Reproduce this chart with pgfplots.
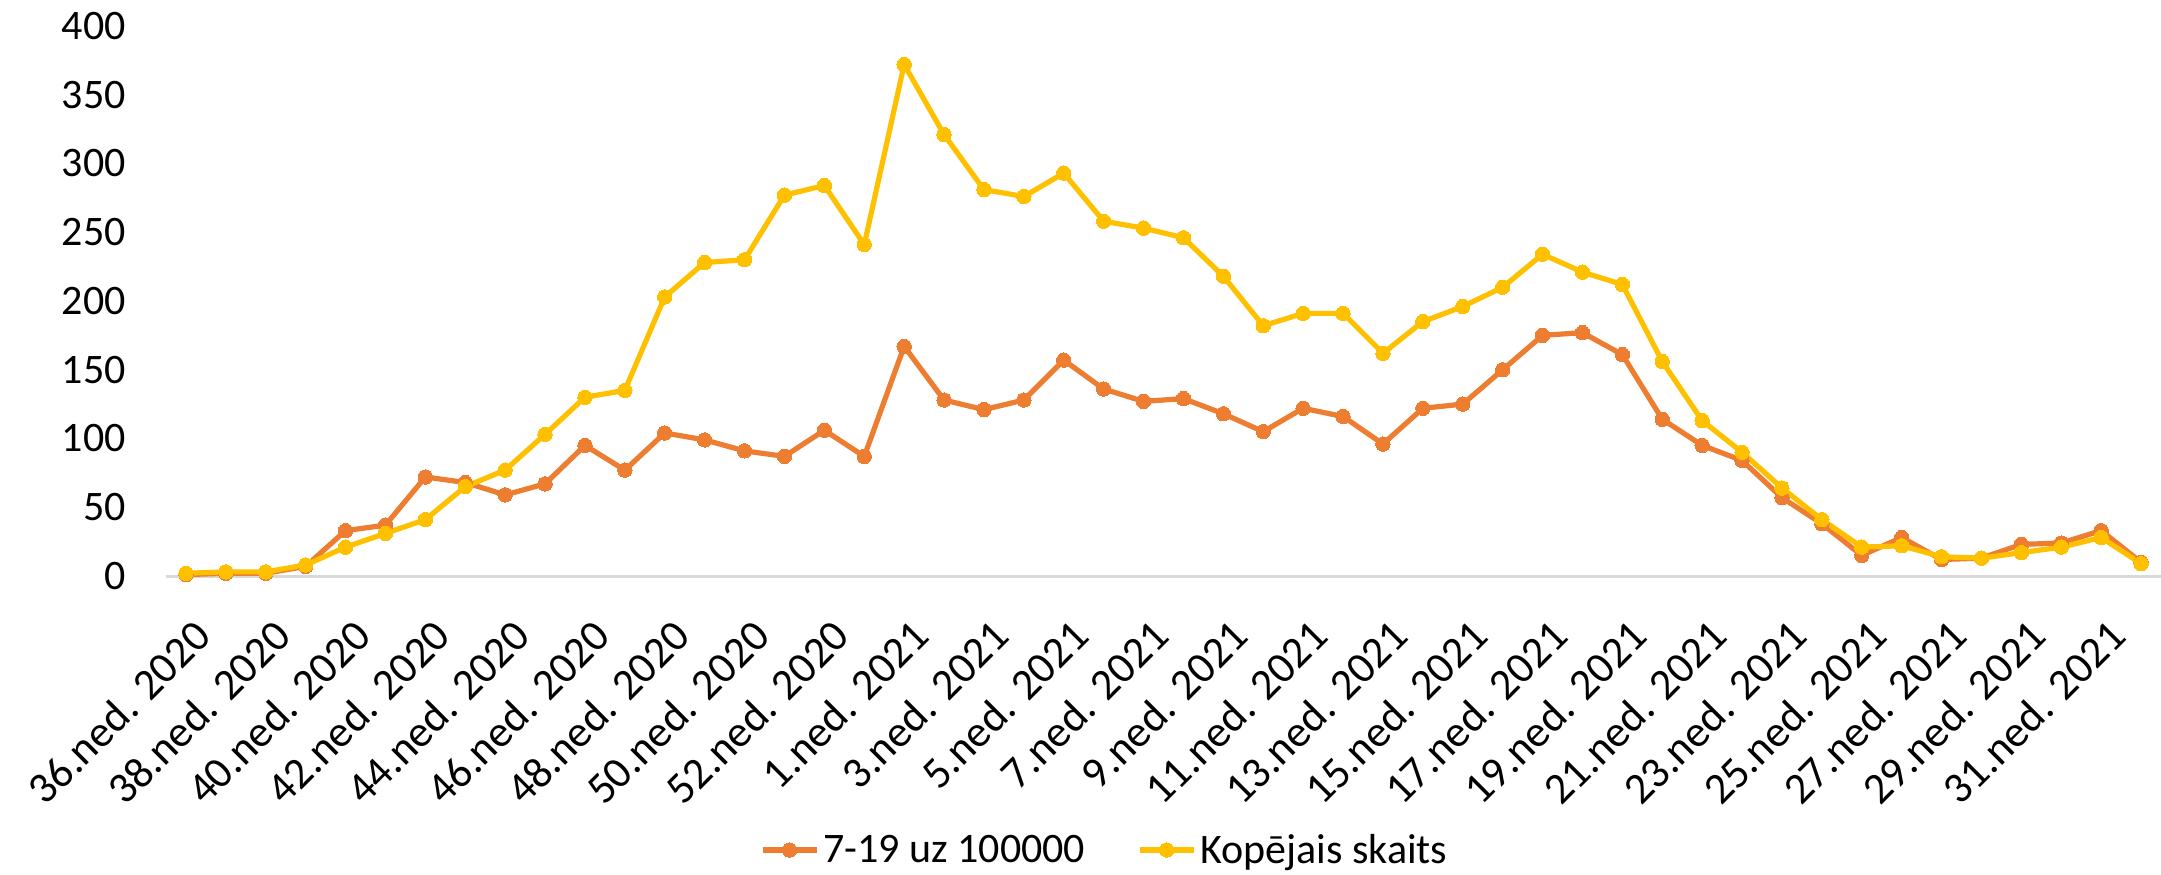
\documentclass[border=0pt]{standalone}
\usepackage{pgfplots}
\pgfplotsset{compat=1.18}
\usepackage{pgfplotstable}
\usepackage{fontspec}
\setmainfont{Carlito}
\definecolor{corange}{HTML}{ED7D31}
\definecolor{cyellow}{HTML}{FFC000}
\definecolor{caxis}{HTML}{D9D9D9}
\pgfplotstableread{
i week O Y
0 36 1 2
1 37 2 3
2 38 2 3
3 39 7 8
4 40 33 21
5 41 37 31
6 42 72 41
7 43 68 65
8 44 59 77
9 45 67 103
10 46 95 130
11 47 77 135
12 48 104 203
13 49 99 228
14 50 91 230
15 51 87 277
16 52 106 284
17 53 87 241
18 1 167 372
19 2 128 321
20 3 121 281
21 4 128 276
22 5 157 293
23 6 136 258
24 7 127 253
25 8 129 246
26 9 118 218
27 10 105 182
28 11 122 191
29 12 116 191
30 13 96 162
31 14 122 185
32 15 125 196
33 16 150 210
34 17 175 234
35 18 177 221
36 19 161 212
37 20 114 156
38 21 95 113
39 22 84 90
40 23 57 64
41 24 38 41
42 25 15 21
43 26 28 22
44 27 12 14
45 28 13 13
46 29 23 17
47 30 24 21
48 31 33 28
49 32 10 9
}\datatable
\begin{document}
\begin{tikzpicture}
\begin{axis}[
  name=ax,
  scale only axis,
  width=997.5pt, height=275pt,
  xmin=-0.5, xmax=49.5,
  ymin=0, ymax=400,
  clip=false,
  axis x line*=bottom,
  axis y line*=left,
  x axis line style={draw=caxis, line width=1.5pt, -},
  y axis line style={draw=none},
  major tick length=0pt,
  ytick={0,50,...,400},
  xtick={0,2,...,48},
  xticklabels={36.ned. 2020,38.ned. 2020,40.ned. 2020,42.ned. 2020,44.ned. 2020,46.ned. 2020,48.ned. 2020,50.ned. 2020,52.ned. 2020,1.ned. 2021,3.ned. 2021,5.ned. 2021,7.ned. 2021,9.ned. 2021,11.ned. 2021,13.ned. 2021,15.ned. 2021,17.ned. 2021,19.ned. 2021,21.ned. 2021,23.ned. 2021,25.ned. 2021,27.ned. 2021,29.ned. 2021,31.ned. 2021},
  /pgf/number format/assume math mode=true,
  tick label style={font=\fontsize{21}{25}\selectfont, text=black},
  yticklabel style={anchor=east, inner sep=0pt, xshift=-20pt},
  xticklabel style={font=\fontsize{22}{26}\selectfont, xshift=8.5pt, yshift=-26pt, rotate=45, anchor=east, inner sep=0pt},
  legend style={at={(0.471,0)}, anchor=center, yshift=-137pt, draw=none, fill=none,
    font=\fontsize{21}{25}\selectfont, column sep=0pt,
    /tikz/every even column/.append style={column sep=24pt}},
  legend columns=2,
  legend image code/.code={
    \draw[#1, mark repeat=2, mark phase=2] plot coordinates {(0pt,0pt) (13.5pt,0pt) (27pt,0pt)};
  },
]
\addplot[color=corange, line width=2.6pt, mark=*, mark size=3.6pt, mark options={fill=corange, draw=corange, line width=0pt}] table[x=i, y=O] {\datatable};
\addlegendentry{7-19 uz 100000}
\addplot[color=cyellow, line width=2.6pt, mark=*, mark size=3.6pt, mark options={fill=cyellow, draw=cyellow, line width=0pt}] table[x=i, y=Y] {\datatable};
\addlegendentry{Kopējais skaits}
\end{axis}
\pgfresetboundingbox
\path ([xshift=-83pt,yshift=-149pt]ax.south west) rectangle ([yshift=13pt]ax.north east);
\end{tikzpicture}
\end{document}
